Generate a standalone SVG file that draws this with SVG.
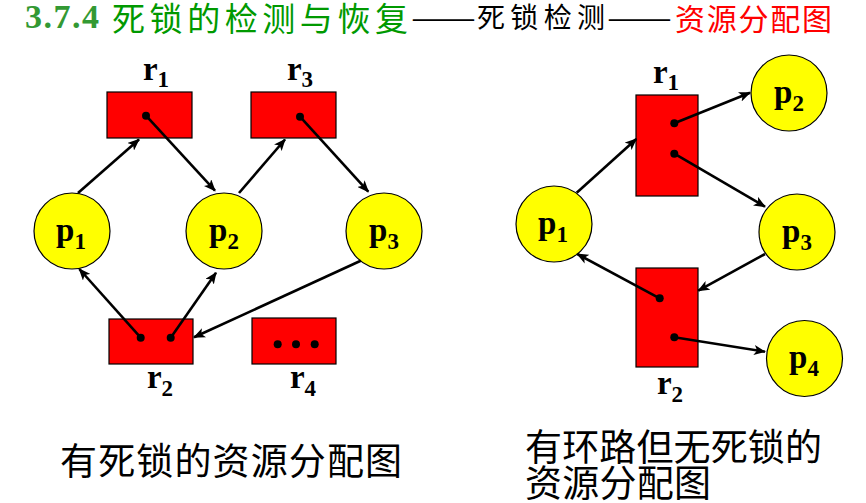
<svg xmlns="http://www.w3.org/2000/svg" width="866" height="503" viewBox="0 0 866 503">
<defs>
<style>
.res{fill:#FF0000;stroke:#000;stroke-width:1.2}
.proc{fill:#FFFF00;stroke:#000;stroke-width:1.2}
.dot{fill:#000}
.lbl{font-family:"Liberation Serif","Times New Roman",serif;font-weight:bold;font-size:33px;fill:#000;text-anchor:middle}
.sub{font-size:23px}
.edge{stroke:#000;stroke-width:2.6;fill:none;marker-end:url(#arr)}
.cjk{font-family:"Noto Sans CJK SC","Noto Sans CJK TC",sans-serif}
.cap{font-family:"Noto Sans CJK SC",sans-serif;font-size:37px;fill:#000}
</style>
<marker id="arr" viewBox="0 0 12 10" refX="11" refY="5" markerWidth="12" markerHeight="10" markerUnits="userSpaceOnUse" orient="auto">
<path d="M0,0 L12,5 L0,10 L3,5 z" fill="#000"/>
</marker>
</defs>
<rect width="866" height="503" fill="#fff"/>

<!-- title -->
<g id="title">
<text x="25" y="28" font-family="Liberation Serif,serif" font-weight="bold" font-size="34" fill="#339933" textLength="74" lengthAdjust="spacing">3.7.4</text>
<text x="112" y="31" class="cjk" font-size="33" fill="#009900" textLength="296" lengthAdjust="spacing">死锁的检测与恢复</text>
<text x="411" y="28" class="cjk" font-size="27" fill="#000" textLength="65" lengthAdjust="spacingAndGlyphs">——</text>
<text x="477" y="28" class="cjk" font-size="28" fill="#000" textLength="128" lengthAdjust="spacing">死锁检测</text>
<text x="607" y="28" class="cjk" font-size="27" fill="#000" textLength="65" lengthAdjust="spacingAndGlyphs">——</text>
<text x="675" y="30" class="cjk" font-size="30" fill="#FF0000" textLength="157" lengthAdjust="spacing">资源分配图</text>
</g>

<!-- left graph -->
<g id="L_r1">
<rect class="res" x="107" y="92" width="85" height="46"/>
<circle class="dot" cx="146" cy="115.7" r="4"/>
<text class="lbl" x="156" y="80">r<tspan class="sub" dy="7">1</tspan></text>
</g>
<g id="L_r3">
<rect class="res" x="251" y="92" width="85" height="46"/>
<circle class="dot" cx="300" cy="116.7" r="4"/>
<text class="lbl" x="300" y="80">r<tspan class="sub" dy="7">3</tspan></text>
</g>
<g id="L_r2">
<rect class="res" x="109" y="319" width="84" height="45"/>
<circle class="dot" cx="140.7" cy="337.7" r="4"/>
<circle class="dot" cx="170.7" cy="337.7" r="4"/>
<text class="lbl" x="160" y="388">r<tspan class="sub" dy="8">2</tspan></text>
</g>
<g id="L_r4">
<rect class="res" x="252" y="318" width="84" height="46"/>
<circle class="dot" cx="277.7" cy="344.3" r="4"/>
<circle class="dot" cx="296" cy="344.3" r="4"/>
<circle class="dot" cx="314.7" cy="344.3" r="4"/>
<text class="lbl" x="303" y="388">r<tspan class="sub" dy="8">4</tspan></text>
</g>
<g id="L_p1">
<circle class="proc" cx="72" cy="231" r="38"/>
<text class="lbl" x="71" y="241">p<tspan class="sub" dy="8">1</tspan></text>
</g>
<g id="L_p2">
<circle class="proc" cx="224" cy="231" r="38"/>
<text class="lbl" x="224" y="241">p<tspan class="sub" dy="8">2</tspan></text>
</g>
<g id="L_p3">
<circle class="proc" cx="384" cy="231" r="38"/>
<text class="lbl" x="384" y="241">p<tspan class="sub" dy="8">3</tspan></text>
</g>

<!-- right graph -->
<g id="R_r1">
<rect class="res" x="636" y="95" width="62" height="101"/>
<circle class="dot" cx="674.3" cy="123.3" r="4"/>
<circle class="dot" cx="674.3" cy="153.7" r="4"/>
<text class="lbl" x="666" y="83">r<tspan class="sub" dy="7">1</tspan></text>
</g>
<g id="R_r2">
<rect class="res" x="636" y="268" width="62" height="99"/>
<circle class="dot" cx="659.7" cy="298.3" r="4"/>
<circle class="dot" cx="674.3" cy="337.3" r="4"/>
<text class="lbl" x="670" y="394">r<tspan class="sub" dy="8">2</tspan></text>
</g>
<g id="R_p1">
<circle class="proc" cx="554" cy="224" r="38"/>
<text class="lbl" x="553" y="234">p<tspan class="sub" dy="8">1</tspan></text>
</g>
<g id="R_p2">
<circle class="proc" cx="789" cy="93" r="38"/>
<text class="lbl" x="789" y="103">p<tspan class="sub" dy="8">2</tspan></text>
</g>
<g id="R_p3">
<circle class="proc" cx="797" cy="232" r="38"/>
<text class="lbl" x="797" y="242">p<tspan class="sub" dy="8">3</tspan></text>
</g>
<g id="R_p4">
<circle class="proc" cx="804.5" cy="358.5" r="38"/>
<text class="lbl" x="804" y="368">p<tspan class="sub" dy="8">4</tspan></text>
</g>

<!-- connectors -->
<g id="connectors">
<line class="edge" x1="78" y1="193" x2="139" y2="139.5"/>
<line class="edge" x1="146" y1="115.7" x2="215" y2="190.7"/>
<line class="edge" x1="239" y1="193" x2="285" y2="139.5"/>
<line class="edge" x1="300" y1="116.7" x2="368.3" y2="191.7"/>
<line class="edge" x1="140.7" y1="337.7" x2="79.3" y2="269"/>
<line class="edge" x1="170.7" y1="337.7" x2="216" y2="272.7"/>
<line class="edge" x1="360.7" y1="260.7" x2="194" y2="337.3"/>
<line class="edge" x1="576.7" y1="192.7" x2="636.3" y2="139"/>
<line class="edge" x1="674.3" y1="123.3" x2="750" y2="92.7"/>
<line class="edge" x1="674.3" y1="153.7" x2="765" y2="206.7"/>
<line class="edge" x1="659.7" y1="298.3" x2="577.3" y2="254"/>
<line class="edge" x1="765" y1="254" x2="698.3" y2="290.7"/>
<line class="edge" x1="674.3" y1="337.3" x2="765" y2="351.7"/>
</g>

<!-- captions -->
<g id="captions">
<text class="cap" x="60" y="475" textLength="342" lengthAdjust="spacing">有死锁的资源分配图</text>
<text class="cap" x="525" y="461" textLength="297" lengthAdjust="spacing">有环路但无死锁的</text>
<text class="cap" x="525" y="497" textLength="186" lengthAdjust="spacing">资源分配图</text>
</g>
</svg>
